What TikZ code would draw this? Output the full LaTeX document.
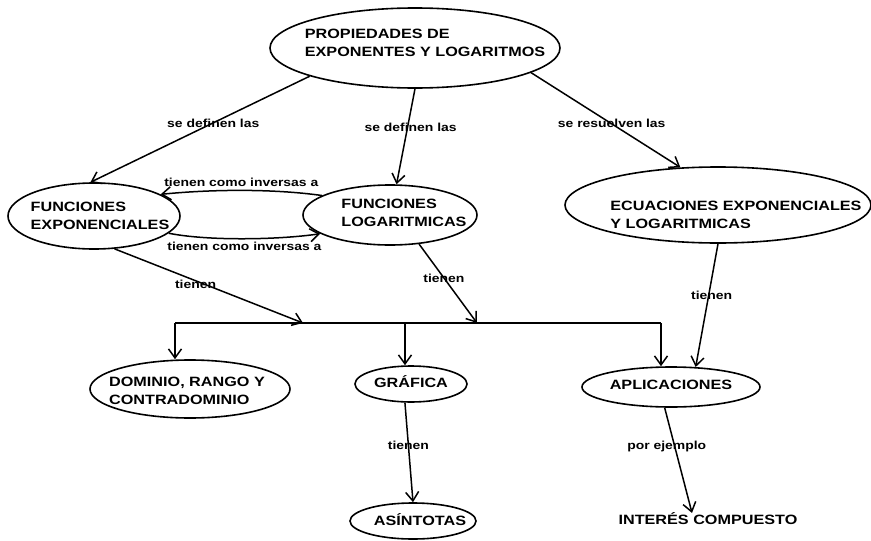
\documentclass[tikz,border=0pt]{standalone}
\usepackage{fontspec}
\newfontfamily\cfont[FakeStretch=1.2]{Liberation Sans}
\usetikzlibrary{shapes.geometric, arrows.meta}

% Text block set inside an ellipse node without widening it:
% #1 = horizontal offset, #2 = vertical offset (up), #3 = lines
\newcommand\ctext[3]{\smash{\makebox[0pt]{\hspace*{#1}\hspace*{#1}\raisebox{\dimexpr#2-4.8pt\relax}{\begin{tabular}{@{}l@{}}#3\end{tabular}}}}}

\tikzset{
  concept/.style={draw, ellipse, line width=1.6pt, inner sep=0pt,
    font=\cfont\bfseries\fontsize{13.5}{18}\selectfont},
  plaintext/.style={inner sep=2pt, text height=9.7pt, text depth=0pt,
    font=\cfont\bfseries\fontsize{13.5}{18}\selectfont},
  lbl/.style={inner sep=0pt, font=\cfont\bfseries\fontsize{11.6}{13}\selectfont},
  link/.style={line width=1.5pt, -{Straight Barb[length=9pt,width=13pt]}},
  busline/.style={line width=1.5pt},
}

\begin{document}
\begin{tikzpicture}[x=1pt, y=-1pt]
\fill[white] (0,0) rectangle (871,541);
\useasboundingbox (0,0) rectangle (871,541);

% concepts
\node[concept, minimum width=290pt, minimum height=80pt] (prop) at (415,48)
  {\ctext{10pt}{5.5pt}{PROPIEDADES DE\\EXPONENTES Y LOGARITMOS}};
\node[concept, minimum width=172pt, minimum height=66pt] (fexp) at (94,216)
  {\ctext{6pt}{0pt}{FUNCIONES\\EXPONENCIALES}};
\node[concept, minimum width=174pt, minimum height=60pt] (flog) at (390,215)
  {\ctext{14pt}{2.5pt}{FUNCIONES\\LOGARITMICAS}};
\node[concept, minimum width=306pt, minimum height=76pt] (ecu) at (718,205)
  {\ctext{18pt}{-10pt}{ECUACIONES EXPONENCIALES\\Y LOGARITMICAS}};
\node[concept, minimum width=200pt, minimum height=58pt] (dom) at (190,389)
  {\ctext{-3pt}{-2pt}{DOMINIO, RANGO Y\\CONTRADOMINIO}};
\node[concept, minimum width=112pt, minimum height=36pt] (graf) at (411,384)
  {\ctext{0pt}{1pt}{GRÁFICA}};
\node[concept, minimum width=178pt, minimum height=40pt] (apl) at (671,387)
  {\ctext{0pt}{2pt}{APLICACIONES}};
\node[concept, minimum width=126pt, minimum height=36pt] (asin) at (413,521)
  {\ctext{7pt}{0pt}{ASÍNTOTAS}};
\node[plaintext] (intr) at (708,520) {INTERÉS COMPUESTO};

% branching bar
\coordinate (busL) at (175,323);
\coordinate (busG) at (405,323);
\coordinate (busR) at (661,323);
\coordinate (hitE) at (303,323);
\coordinate (hitL) at (477,323);

% links from the top concept
\draw[link] (prop.-165.3) -- node[lbl, pos=0.44] {se definen las} (fexp.96);
\draw[link] (prop.south) -- node[lbl, pos=0.4, xshift=3pt] {se definen las} (flog.78);
\draw[link] (prop.-12) -- node[lbl, pos=0.54] {se resuelven las} (ecu.135);

% inverse functions
\draw[link] (flog.164.7) .. controls +(-50,-7) and +(50,-5) ..
  node[lbl, pos=0.5, yshift=8pt] {tienen como inversas a} (fexp.18);
\draw[link] (fexp.-13) .. controls +(40,8) and +(-40,6) ..
  node[lbl, pos=0.5, yshift=-8pt] {tienen como inversas a} (flog.195.3);

% into the bar
\draw[link] (fexp.-58) -- node[lbl, pos=0.43, yshift=-4pt] {tienen} (hitE);
\draw[link] (flog.-45) -- node[lbl, pos=0.43] {tienen} (hitL);
\draw[busline] (busL) -- (busR);
\draw[link] (busL) -- (busL |- dom.north);
\draw[link] (busG) -- (busG |- graf.north);
\draw[link] (busR) -- (busR |- apl.north);

% lower links
\draw[link] (ecu.south) -- node[lbl, pos=0.42, xshift=3pt] {tienen} (apl.39);
\draw[link] (graf.-108) -- node[lbl, pos=0.43] {tienen} (asin.north);
\draw[link] (apl.-107) -- node[lbl, pos=0.37, xshift=-8pt] {por ejemplo} ([xshift=-16pt]intr.north);
\end{tikzpicture}
\end{document}
